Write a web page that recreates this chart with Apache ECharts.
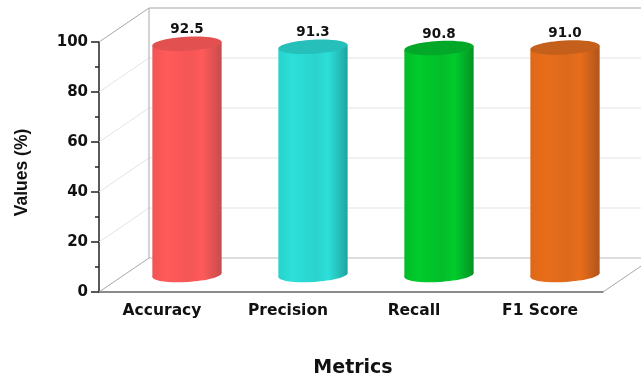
<!DOCTYPE html>
<html>
<head>
<meta charset="utf-8">
<style>
  html, body { margin: 0; padding: 0; background: #fff; }
  #chart { width: 641px; height: 378px; filter: blur(0.45px); }
</style>
<script src="https://cdn.jsdelivr.net/npm/echarts@6/dist/echarts.min.js"></script>
</head>
<body>
<div id="chart"></div>
<script>
var categories = ['Accuracy', 'Precision', 'Recall', 'F1 Score']
var values = [92.5, 91.3, 90.8, 91.0]
var labels = ['92.5', '91.3', '90.8', '91.0']
var gridValues = [0, 20, 40, 60, 80, 100]

// left, mid, shade, right of the side, then the lid
var palette = [
  ['#f25454', '#ff5a5a', '#f55656', '#c64c4c', '#e35050'],
  ['#27d3cd', '#2cdfd9', '#2ad3cd', '#1fa5a0', '#26bfb9'],
  ['#00bb28', '#00cc2c', '#03bd2a', '#049325', '#04a829'],
  ['#de6818', '#e86d1a', '#dd6a1c', '#b0551b', '#c4601b']
]

var depthX = 50
var depthY = 34
var tilt = 0.055
var font = '"DejaVu Sans", sans-serif'

function side(colors) {
  return new echarts.graphic.LinearGradient(0, 0, 1, 0, [
    { offset: 0, color: colors[0] },
    { offset: 0.2, color: colors[1] },
    { offset: 0.55, color: colors[2] },
    { offset: 0.72, color: colors[1] },
    { offset: 1, color: colors[3] }
  ])
}

function renderWall(params, api) {
  var box = params.coordSys
  var v = api.value(0)
  var y = api.coord([0, v])[1]
  var edge = v === 0 || v === 100
  var color = edge ? '#a8a8a8' : '#e4e4e4'
  var back = edge ? '#d2d2d2' : '#ececec'
  return {
    type: 'group',
    children: [
      {
        type: 'line',
        shape: { x1: box.x, y1: y, x2: box.x + depthX, y2: y - depthY },
        style: { stroke: color, lineWidth: 1 }
      },
      {
        type: 'line',
        shape: { x1: box.x + depthX, y1: y - depthY, x2: box.x + box.width + 60, y2: y - depthY },
        style: { stroke: back, lineWidth: v === 100 ? 2 : 1.5 }
      }
    ]
  }
}

function renderFrame(params) {
  var box = params.coordSys
  var right = box.x + box.width
  var bottom = box.y + box.height
  return {
    type: 'group',
    children: [
      {
        type: 'line',
        shape: { x1: box.x + depthX, y1: box.y - depthY, x2: box.x + depthX, y2: bottom - depthY },
        style: { stroke: '#a8a8a8', lineWidth: 1 }
      },
      {
        type: 'line',
        shape: { x1: right, y1: bottom, x2: right + depthX, y2: bottom - depthY },
        style: { stroke: '#a8a8a8', lineWidth: 1 }
      }
    ]
  }
}

function renderCylinder(params, api) {
  var i = api.value(0)
  var top = api.coord([i, api.value(1)])
  var base = api.coord([i, 0])
  var rx = api.size([1, 0])[0] * 0.275
  var ry = 7
  var cx = top[0] + depthX / 2
  var topY = top[1] - depthY / 2
  var baseY = base[1] - depthY / 2
  var lean = rx * tilt
  var colors = palette[i]
  return {
    type: 'group',
    children: [
      {
        type: 'ellipse',
        shape: { cx: cx, cy: baseY, rx: rx, ry: ry },
        originX: cx,
        originY: baseY,
        rotation: tilt,
        style: { fill: side(colors) }
      },
      {
        type: 'polygon',
        shape: {
          points: [
            [cx - rx, topY + lean],
            [cx + rx, topY - lean],
            [cx + rx, baseY - lean],
            [cx - rx, baseY + lean]
          ]
        },
        style: { fill: side(colors) }
      },
      {
        type: 'ellipse',
        shape: { cx: cx, cy: topY, rx: rx, ry: ry },
        originX: cx,
        originY: topY,
        rotation: tilt,
        style: { fill: colors[4] }
      },
      {
        type: 'text',
        style: {
          x: cx,
          y: topY - 14,
          text: labels[i],
          fill: '#111',
          font: 'bold 13.5px ' + font,
          align: 'center',
          verticalAlign: 'middle'
        }
      }
    ]
  }
}

var chart = echarts.init(document.getElementById('chart'), null, { renderer: 'canvas' })

var option = {
  animation: false,
  backgroundColor: '#fff',
  grid: { left: 99, right: 38, top: 42, bottom: 86, outerBoundsMode: 'none' },
  xAxis: [
    {
      type: 'category',
      data: categories,
      name: 'Metrics',
      nameLocation: 'middle',
      nameGap: 67,
      nameTextStyle: { fontFamily: font, fontWeight: 'bold', fontSize: 19, color: '#111', padding: [0, 0, 0, 4] },
      axisLine: { lineStyle: { color: '#666', width: 1.5 } },
      axisTick: { alignWithLabel: true, length: 7, lineStyle: { color: '#333', width: 1.5 } },
      axisLabel: { fontFamily: font, fontWeight: 'bold', fontSize: 15.5, color: '#111', margin: 11, interval: 0 }
    },
    {
      type: 'category',
      data: categories,
      position: 'bottom',
      axisLine: { show: false },
      axisTick: { alignWithLabel: false, length: 4, lineStyle: { color: '#333', width: 1.5 } },
      axisLabel: { show: false }
    }
  ],
  yAxis: {
    type: 'value',
    min: 0,
    max: 100,
    interval: 20,
    name: 'Values (%)',
    nameLocation: 'middle',
    nameGap: 68,
    nameTextStyle: { fontFamily: '"Liberation Sans", sans-serif', fontWeight: 'bold', fontSize: 17.5, color: '#111', padding: [0, 11, 0, 0] },
    axisLine: { show: true, lineStyle: { color: '#222', width: 1.5 } },
    axisTick: { show: true, length: 8, lineStyle: { color: '#222', width: 1.5 } },
    minorTick: { show: true, splitNumber: 2, length: 4, lineStyle: { color: '#222', width: 1.5 } },
    splitLine: { show: false },
    axisLabel: { fontFamily: font, fontWeight: 'bold', fontSize: 15, color: '#111', margin: 11, padding: [2, 0, 0, 0] }
  },
  series: [
    {
      type: 'custom',
      name: 'wall',
      renderItem: renderWall,
      data: gridValues.map(function (v) { return [v] }),
      encode: { y: 0 },
      silent: true,
      clip: false,
      z: 1
    },
    {
      type: 'custom',
      name: 'frame',
      renderItem: renderFrame,
      data: [[0]],
      silent: true,
      clip: false,
      z: 2
    },
    {
      type: 'custom',
      name: 'Values',
      renderItem: renderCylinder,
      data: values.map(function (v, i) { return [i, v] }),
      encode: { x: 0, y: 1 },
      clip: false,
      z: 3
    }
  ]
}

chart.setOption(option)
</script>
</body>
</html>
